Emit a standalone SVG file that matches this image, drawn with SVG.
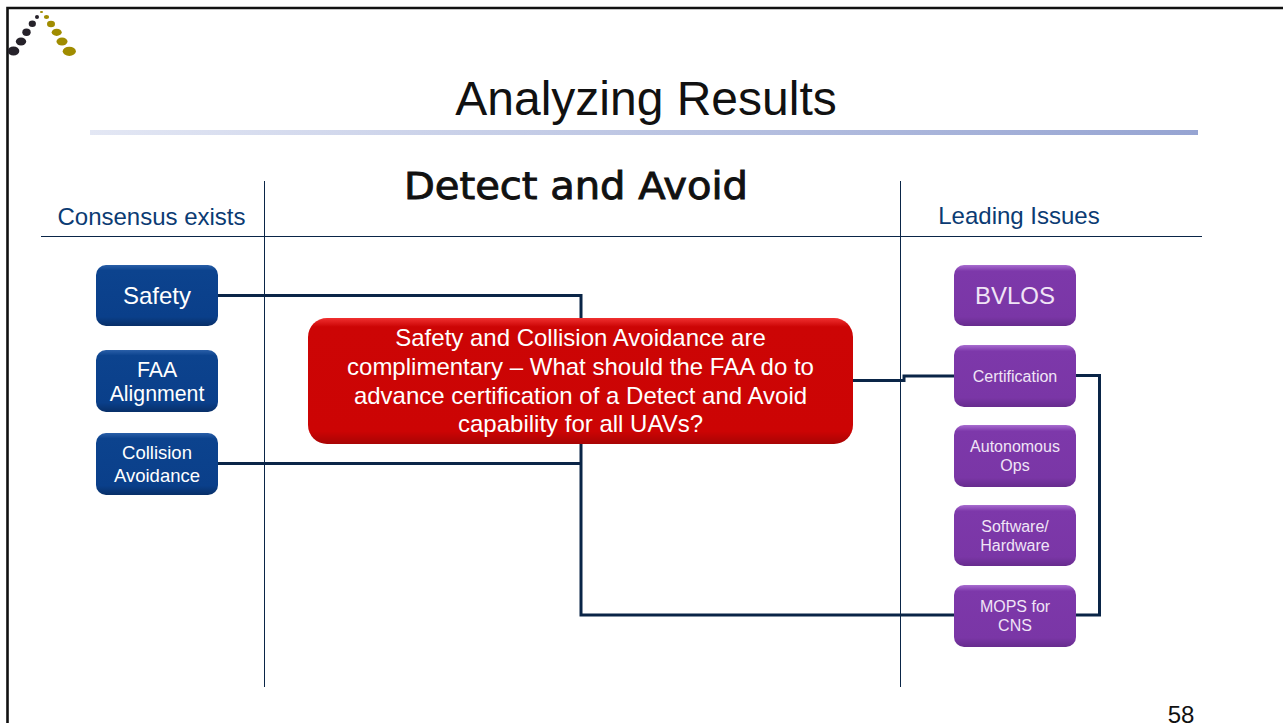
<svg xmlns="http://www.w3.org/2000/svg" width="1283" height="723" viewBox="0 0 1283 723">
<style>
text{font-family:"Liberation Sans",Arial,sans-serif;text-anchor:middle}
.w{fill:#fff}
.p{fill:#f0e4f6}
.hdr{fill:#0b3b73;font-size:24px}
.c{fill:none;stroke:#0a2547;stroke-width:3}
.t{stroke:#0a2547;stroke-width:1}
.d{fill:#26222a}.o{fill:#a08c00}
</style>
<defs>
<linearGradient id="bg" x1="0" y1="0" x2="0" y2="1"><stop offset="0" stop-color="#2a5fa8"/><stop offset=".09" stop-color="#0c438e"/><stop offset=".85" stop-color="#0a3f8a"/><stop offset="1" stop-color="#082f68"/></linearGradient>
<linearGradient id="pg" x1="0" y1="0" x2="0" y2="1"><stop offset="0" stop-color="#a86cd0"/><stop offset=".1" stop-color="#7d38aa"/><stop offset=".85" stop-color="#7a36a6"/><stop offset="1" stop-color="#672c8e"/></linearGradient>
<linearGradient id="rg" x1="0" y1="0" x2="0" y2="1"><stop offset="0" stop-color="#f03030"/><stop offset=".07" stop-color="#cc0505"/><stop offset=".9" stop-color="#cc0404"/><stop offset="1" stop-color="#a80404"/></linearGradient>
<linearGradient id="rule" x1="0" y1="0" x2="1" y2="0"><stop offset="0" stop-color="#e3e7f4"/><stop offset="1" stop-color="#96a4d2"/></linearGradient>
</defs>
<rect width="1283" height="723" fill="#fff"/>
<path d="M7.500 723V8H1283" fill="none" stroke="#111" stroke-width="2.600"/>
<g id="logo">
<ellipse class="d" cx="13.500" cy="51" rx="5.800" ry="4.600"/><ellipse class="d" cx="21" cy="41.500" rx="5.200" ry="4"/><ellipse class="d" cx="26.500" cy="32.300" rx="4.200" ry="3.700"/><ellipse class="d" cx="32.300" cy="23.700" rx="3.600" ry="3.200"/><ellipse class="d" cx="37" cy="17" rx="2" ry="2"/>
<ellipse class="o" cx="41.500" cy="12" rx="1.600" ry="1"/><ellipse class="o" cx="46.500" cy="17" rx="2.600" ry="2.100"/><ellipse class="o" cx="51" cy="24" rx="4" ry="3.300"/><ellipse class="o" cx="56.700" cy="32.300" rx="5" ry="3.600"/><ellipse class="o" cx="62" cy="41.500" rx="5.500" ry="4"/><ellipse class="o" cx="69.300" cy="51.300" rx="6.600" ry="4.600"/>
</g>
<text x="646" y="115" font-size="48" fill="#111">Analyzing Results</text>
<rect x="90" y="130" width="1108" height="5" fill="url(#rule)"/>
<text x="576" y="199" font-size="37" fill="#111" stroke="#111" stroke-width=".9" style="font-family:'DejaVu Sans','Liberation Sans',sans-serif" textLength="344" lengthAdjust="spacingAndGlyphs">Detect and Avoid</text>
<text class="hdr" x="151.500" y="225">Consensus exists</text>
<text class="hdr" x="1019" y="224">Leading Issues</text>
<g id="connectors">
<path class="t" d="M41 236.500H1202M264.500 181V687M900.500 181V687" fill="none"/>
<path class="c" d="M218 295.500H581V320M218 463.500H581M581 443V615H954M853 380.500H904V376H954M1076 375.500H1099.500V615H1076"/>
</g>
<g id="safety"><rect x="96" y="265" width="122" height="61" rx="10" fill="url(#bg)"/><text class="w" x="157" y="304" font-size="24">Safety</text></g>
<g id="faa"><rect x="96" y="350" width="122" height="62" rx="10" fill="url(#bg)"/><text class="w" x="157" y="376.500" font-size="21.300">FAA</text><text class="w" x="157" y="401" font-size="21.300">Alignment</text></g>
<g id="collision"><rect x="96" y="433" width="122" height="62" rx="10" fill="url(#bg)"/><text class="w" x="157" y="459" font-size="18.500">Collision</text><text class="w" x="157" y="482" font-size="18.500">Avoidance</text></g>
<g id="question"><rect x="308" y="318" width="545" height="126" rx="19" fill="url(#rg)"/>
<text class="w" x="580.500" y="346" font-size="24">Safety and Collision Avoidance are</text>
<text class="w" x="580.500" y="375" font-size="24">complimentary – What should the FAA do to</text>
<text class="w" x="580.500" y="404" font-size="24">advance certification of a Detect and Avoid</text>
<text class="w" x="580.500" y="432" font-size="24">capability for all UAVs?</text></g>
<g id="bvlos"><rect x="954" y="265" width="122" height="61" rx="10" fill="url(#pg)"/><text class="p" x="1015" y="304" font-size="24">BVLOS</text></g>
<g id="certification"><rect x="954" y="345" width="122" height="62" rx="10" fill="url(#pg)"/><text class="p" x="1015" y="382" font-size="16">Certification</text></g>
<g id="autonomous"><rect x="954" y="425" width="122" height="62" rx="10" fill="url(#pg)"/><text class="p" x="1015" y="452" font-size="16">Autonomous</text><text class="p" x="1015" y="471" font-size="16">Ops</text></g>
<g id="software"><rect x="954" y="505" width="122" height="61" rx="10" fill="url(#pg)"/><text class="p" x="1015" y="532" font-size="16">Software/</text><text class="p" x="1015" y="551" font-size="16">Hardware</text></g>
<g id="mops"><rect x="954" y="585" width="122" height="62" rx="10" fill="url(#pg)"/><text class="p" x="1015" y="612" font-size="16">MOPS for</text><text class="p" x="1015" y="631" font-size="16">CNS</text></g>
<text x="1181" y="723" font-size="24" fill="#111">58</text>
</svg>
